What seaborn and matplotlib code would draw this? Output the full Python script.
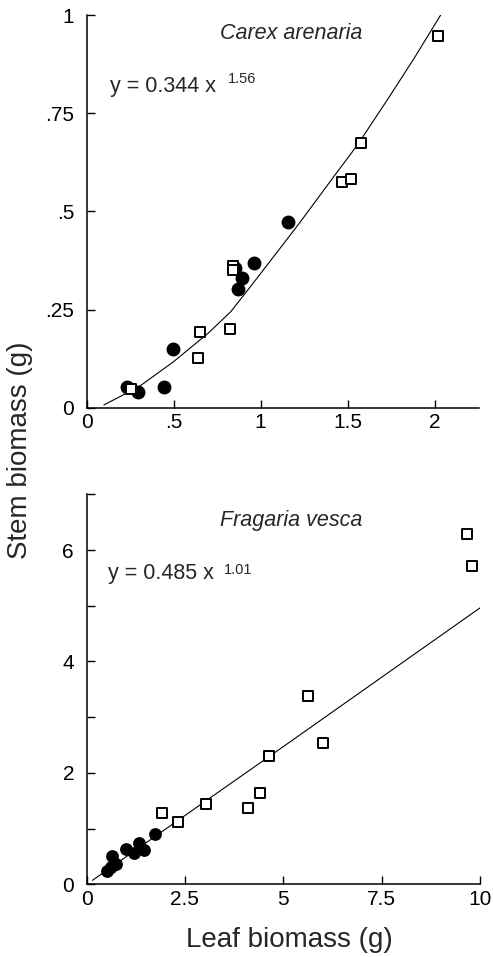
import numpy as np
import pandas as pd
import matplotlib
matplotlib.use("Agg")
import matplotlib.pyplot as plt
import seaborn as sns

# Carex arenaria: leaf vs stem biomass (g)
carex_sq_leaf = [2.02, 1.58, 1.466, 1.52, 0.844, 0.844, 0.65, 0.823, 0.64, 0.254]
carex_sq_stem = [0.947, 0.673, 0.576, 0.582, 0.36, 0.35, 0.192, 0.201, 0.127, 0.048]
carex_ci_leaf = [0.231, 0.294, 0.444, 0.496, 1.16, 0.961, 0.856, 0.894, 0.873]
carex_ci_stem = [0.052, 0.040, 0.052, 0.150, 0.474, 0.369, 0.355, 0.331, 0.303]
# fitted curve y = 0.344 x^1.56 as drawn in the figure
carex_fit_x = [0.10, 0.30, 0.50, 0.70, 0.83, 0.98, 1.22, 1.42, 1.555, 1.73, 1.88, 2.035]
carex_fit_y = [0.007, 0.053, 0.117, 0.19, 0.245, 0.33, 0.468, 0.588, 0.668, 0.785, 0.888, 1.0]

# Fragaria vesca
frag_sq_leaf = [9.68, 9.81, 5.63, 6.02, 4.65, 4.42, 4.11, 3.03, 2.32, 1.91]
frag_sq_stem = [6.28, 5.72, 3.38, 2.54, 2.30, 1.63, 1.37, 1.44, 1.12, 1.28]
frag_ci_leaf = [1.74, 1.34, 1.47, 1.21, 1.00, 0.64, 0.74, 0.63, 0.51]
frag_ci_stem = [0.91, 0.74, 0.62, 0.56, 0.63, 0.50, 0.37, 0.31, 0.24]
# fitted line y = 0.485 x^1.01 as drawn
frag_fit_x = [0.15, 5.0, 10.0]
frag_fit_y = [0.07, 2.47, 4.96]

sns.set_theme(style="ticks")
plt.rcParams['font.family'] = ['Liberation Sans', 'DejaVu Sans']

fig = plt.figure(figsize=(4.93, 9.57), dpi=100)
ax1 = fig.add_axes([0.1755, 0.574, 0.796, 0.4103])
ax2 = fig.add_axes([0.1755, 0.076, 0.798, 0.4075])


def draw_panel(ax, sq_x, sq_y, ci_x, ci_y, fit_x, fit_y, ci_size):
    sns.lineplot(x=fit_x, y=fit_y, ax=ax, color="black", linewidth=0.8, sort=False)
    sns.scatterplot(x=ci_x, y=ci_y, ax=ax, marker="o", s=ci_size, color="black",
                    edgecolor="black", linewidth=0, zorder=3)
    sns.scatterplot(x=sq_x, y=sq_y, ax=ax, marker="s", s=52, facecolor="white",
                    edgecolor="black", linewidth=1.4, zorder=4)
    sns.despine(ax=ax)
    for side in ["left", "bottom"]:
        ax.spines[side].set_linewidth(1.1)
        ax.spines[side].set_color("black")
    ax.tick_params(axis="both", which="both", direction="in", color="black",
                   labelsize=15, labelcolor="black", width=1.0, length=6)
    ax.tick_params(axis="y", pad=9)
    ax.tick_params(axis="x", pad=4)
    ax.set_xlabel("")
    ax.set_ylabel("")


draw_panel(ax1, carex_sq_leaf, carex_sq_stem, carex_ci_leaf, carex_ci_stem,
           carex_fit_x, carex_fit_y, 100)
ax1.set_xlim(0, 2.255)
ax1.set_ylim(0, 1)
ax1.set_xticks([0, 0.5, 1, 1.5, 2])
ax1.set_xticklabels(["0", ".5", "1", "1.5", "2"])
ax1.set_yticks([0, 0.25, 0.5, 0.75, 1])
ax1.set_yticklabels(["0", ".25", ".5", ".75", "1"])
ax1.text(0.522, 0.954, "Carex arenaria", transform=ax1.transAxes, fontsize=15.5,
         style="italic", ha="center", va="center")
ax1.text(0.060, 0.819, "y = 0.344 x", transform=ax1.transAxes, fontsize=15.5,
         ha="left", va="center")
ax1.text(0.361, 0.836, "1.56", transform=ax1.transAxes, fontsize=10.5,
         ha="left", va="center")

draw_panel(ax2, frag_sq_leaf, frag_sq_stem, frag_ci_leaf, frag_ci_stem,
           frag_fit_x, frag_fit_y, 85)
ax2.set_xlim(0, 10)
ax2.set_ylim(0, 7)
ax2.set_xticks([0, 2.5, 5, 7.5, 10])
ax2.set_xticklabels(["0", "2.5", "5", "7.5", "10"])
ax2.set_yticks([0, 2, 4, 6])
ax2.set_yticklabels(["0", "2", "4", "6"])
ax2.set_yticks([1, 3, 5, 7], minor=True)
ax2.text(0.521, 0.932, "Fragaria vesca", transform=ax2.transAxes, fontsize=15.5,
         style="italic", ha="center", va="center")
ax2.text(0.055, 0.796, "y = 0.485 x", transform=ax2.transAxes, fontsize=15.5,
         ha="left", va="center")
ax2.text(0.349, 0.806, "1.01", transform=ax2.transAxes, fontsize=10.5,
         ha="left", va="center")

fig.text(0.041, 0.530, "Stem biomass (g)", rotation=90, fontsize=20,
         ha="center", va="center")
fig.text(0.586, 0.018, "Leaf biomass (g)", fontsize=20, ha="center", va="center")

fig.savefig("out.png", dpi=100, facecolor="white")
